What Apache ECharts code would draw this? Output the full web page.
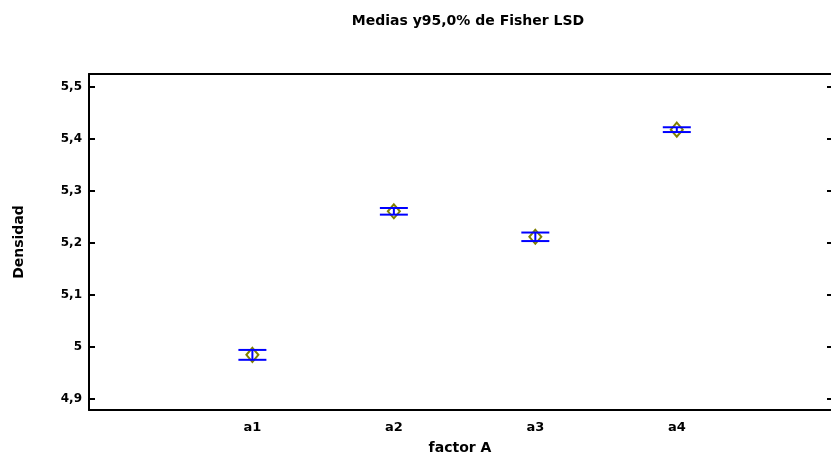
<!DOCTYPE html>
<html>
<head>
<meta charset="utf-8">
<script src="https://cdn.jsdelivr.net/npm/echarts@6/dist/echarts.min.js"></script>
<style>
  html, body { margin: 0; padding: 0; background: #fff; }
  #chart { width: 831px; height: 460px; }
</style>
</head>
<body>
<div id="chart"></div>
<script>
// Group names and their positions along the x axis
var categories = ['a1', 'a2', 'a3', 'a4'];
var positions = [1, 2, 3, 4];
// Group means of Densidad
var means = [4.985, 5.261, 5.212, 5.418];
// Half-width of each 95% Fisher LSD interval
var halfWidths = [0.0095, 0.0064, 0.0082, 0.0046];
// Tick values shown on the Densidad axis
var yTicks = [4.9, 5.0, 5.1, 5.2, 5.3, 5.4, 5.5];

var FONT = '"DejaVu Sans", "Liberation Sans", Arial, sans-serif';

var rows = categories.map(function (c, i) {
  return [positions[i], means[i], means[i] - halfWidths[i], means[i] + halfWidths[i]];
});

function fmtNum(v) {
  var s = (Math.round(v * 10) / 10).toString();
  return s.replace('.', ',');
}

var chart = echarts.init(document.getElementById('chart'), null, { renderer: 'canvas' });

var X_MIN = -0.155, X_MAX = 5.09;
var Y_MIN = 4.879, Y_MAX = 5.525;

chart.setOption({
  animation: false,
  backgroundColor: '#ffffff',
  title: {
    text: 'Medias y95,0% de Fisher LSD',
    left: 463,
    top: 9,
    textAlign: 'center',
    textStyle: { fontFamily: FONT, fontSize: 14, fontWeight: 'bold', color: '#000' }
  },
  grid: { left: 89, right: 0, top: 74, bottom: 50 },
  xAxis: [{
    type: 'value',
    min: X_MIN,
    max: X_MAX,
    position: 'bottom',
    splitLine: { show: false },
    axisLine: { show: true, onZero: false, lineStyle: { color: '#000', width: 2 } },
    axisTick: { show: false },
    axisLabel: {
      customValues: positions,
      margin: 11,
      fontFamily: FONT, fontSize: 13, fontWeight: 'bold', color: '#000',
      formatter: function (v) {
        var i = positions.indexOf(Math.round(v));
        return i >= 0 ? categories[i] : '';
      }
    },
    name: 'factor A',
    nameLocation: 'middle',
    nameGap: 31,
    nameTextStyle: { fontFamily: FONT, fontSize: 14, fontWeight: 'bold', color: '#000' }
  }, {
    type: 'value',
    min: X_MIN,
    max: X_MAX,
    position: 'top',
    splitLine: { show: false },
    axisLine: { show: true, onZero: false, lineStyle: { color: '#000', width: 2 } },
    axisTick: { show: false },
    axisLabel: { show: false }
  }],
  yAxis: [{
    type: 'value',
    min: Y_MIN,
    max: Y_MAX,
    position: 'left',
    splitLine: { show: false },
    axisLine: { show: true, onZero: false, lineStyle: { color: '#000', width: 2 } },
    axisTick: {
      show: true, inside: true, length: 6, customValues: yTicks,
      lineStyle: { color: '#000', width: 2 }
    },
    axisLabel: {
      customValues: yTicks,
      margin: 7,
      fontFamily: FONT, fontSize: 12, fontWeight: 'bold', color: '#000',
      formatter: fmtNum
    },
    name: 'Densidad',
    nameLocation: 'middle',
    nameGap: 63,
    nameRotate: 90,
    nameTextStyle: { fontFamily: FONT, fontSize: 14, fontWeight: 'bold', color: '#000' }
  }, {
    type: 'value',
    min: Y_MIN,
    max: Y_MAX,
    position: 'right',
    splitLine: { show: false },
    axisLine: { show: false, onZero: false },
    axisTick: {
      show: true, inside: true, length: 4, customValues: yTicks,
      lineStyle: { color: '#000', width: 2 }
    },
    axisLabel: { show: false }
  }],
  series: [{
    type: 'custom',
    xAxisIndex: 0,
    yAxisIndex: 0,
    data: rows,
    renderItem: function (params, api) {
      var x = api.value(0);
      var c = api.coord([x, api.value(1)]);
      var lo = api.coord([x, api.value(2)]);
      var hi = api.coord([x, api.value(3)]);
      var capHalf = 14;
      var dw = 6, dh = 7;
      var blue = { stroke: '#0000ff', lineWidth: 2 };
      return {
        type: 'group',
        children: [{
          type: 'polygon',
          shape: { points: [[c[0], c[1] - dh], [c[0] + dw, c[1]], [c[0], c[1] + dh], [c[0] - dw, c[1]]] },
          style: { fill: 'none', stroke: '#808000', lineWidth: 2 }
        }, {
          type: 'line',
          shape: { x1: c[0], y1: hi[1], x2: c[0], y2: lo[1] },
          style: blue
        }, {
          type: 'line',
          shape: { x1: hi[0] - capHalf, y1: hi[1], x2: hi[0] + capHalf, y2: hi[1] },
          style: blue
        }, {
          type: 'line',
          shape: { x1: lo[0] - capHalf, y1: lo[1], x2: lo[0] + capHalf, y2: lo[1] },
          style: blue
        }]
      };
    }
  }]
});
</script>
</body>
</html>
